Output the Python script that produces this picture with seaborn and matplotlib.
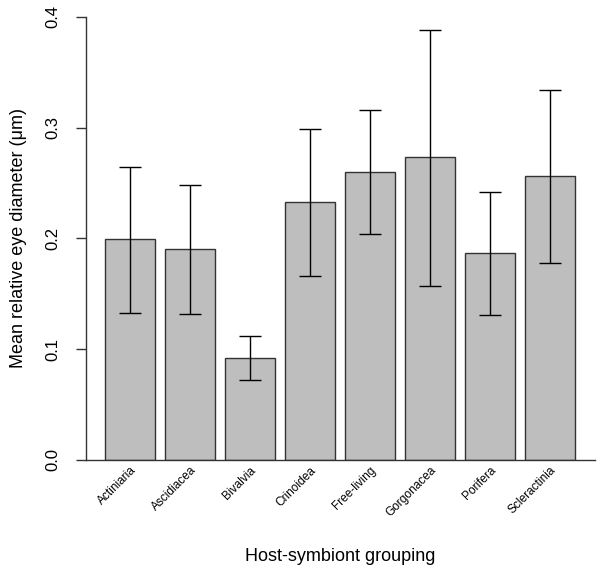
import numpy as np
import pandas as pd
import matplotlib
matplotlib.use("Agg")
import matplotlib.pyplot as plt
import seaborn as sns

# values
groups = ["Actiniaria", "Ascidiacea", "Bivalvia", "Crinoidea",
          "Free-living", "Gorgonacea", "Porifera", "Scleractinia"]
means = [0.199, 0.190, 0.092, 0.233, 0.260, 0.273, 0.187, 0.256]
upper = [0.264, 0.248, 0.112, 0.299, 0.316, 0.388, 0.242, 0.334]
lower = [0.133, 0.132, 0.072, 0.166, 0.204, 0.157, 0.131, 0.178]

df = pd.DataFrame({"group": groups, "mean": means})

sns.set_style("white")
plt.rcParams["font.family"] = ["Liberation Sans", "DejaVu Sans"]
plt.rcParams["text.color"] = "black"
plt.rcParams["axes.labelcolor"] = "black"
plt.rcParams["xtick.color"] = "black"
plt.rcParams["ytick.color"] = "black"

fig = plt.figure(figsize=(6, 5.71), dpi=100)
ax = fig.add_axes([0.1433, 0.1944, 0.8484, 0.7764])

sns.barplot(data=df, x="group", y="mean", color="#BEBEBE", saturation=1,
            width=1 / 1.2, edgecolor="#333333", linewidth=1, errorbar=None, ax=ax)

x = np.arange(len(groups))
m = np.array(means)
yerr = [m - np.array(lower), np.array(upper) - m]
ax.errorbar(x, m, yerr=yerr, fmt="none", ecolor="black", elinewidth=1,
            capsize=7.8, capthick=1)

ax.set_xlim(-0.73, 7.75)
ax.set_ylim(0, 0.4)
ax.set_yticks([0.0, 0.1, 0.2, 0.3, 0.4])
ax.set_yticklabels(["0.0", "0.1", "0.2", "0.3", "0.4"], rotation=90, va="center", fontsize=12)
ax.tick_params(axis="y", direction="out", length=7.5, width=1, color="#333333", pad=11, left=True)
ax.tick_params(axis="x", length=0, pad=3)
ax.set_xticks(x)
ax.set_xticklabels(groups, rotation=45, ha="right", rotation_mode="anchor", fontsize=8.6)

for s in ["top", "right"]:
    ax.spines[s].set_visible(False)
ax.spines["left"].set_color("#333333")
ax.spines["bottom"].set_color("#333333")
ax.spines["left"].set_linewidth(1)
ax.spines["bottom"].set_linewidth(1)

ax.set_ylabel("Mean relative eye diameter (μm)", fontsize=13, labelpad=13)
ax.set_xlabel("Host-symbiont grouping", fontsize=13, labelpad=21)

fig.savefig("out.png", dpi=100)
